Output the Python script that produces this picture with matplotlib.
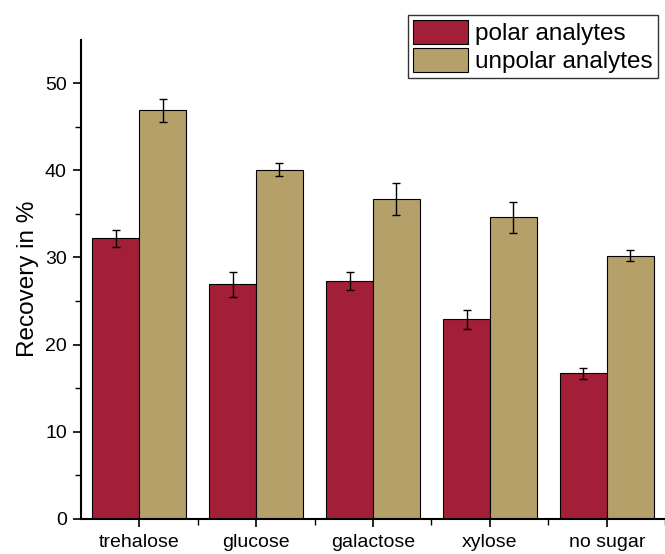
import numpy as np
import matplotlib
matplotlib.use("Agg")
import matplotlib.pyplot as plt

plt.rcParams['font.family'] = ['Liberation Sans', 'DejaVu Sans']

# Data
categories = ["trehalose", "glucose", "galactose", "xylose", "no sugar"]
polar      = [32.2, 26.9, 27.3, 22.9, 16.7]
polar_err  = [0.95, 1.4, 1.0, 1.1, 0.6]
unpolar    = [46.9, 40.1, 36.7, 34.6, 30.2]
unpolar_err = [1.35, 0.7, 1.85, 1.8, 0.65]

red = '#A31F37'
tan = '#B5A06A'

fig = plt.figure(figsize=(6.65, 5.54), dpi=100)
ax = fig.add_axes([0.1214, 0.0637, 0.879, 0.8645])

x = np.arange(1, len(categories) + 1)
w = 0.4
err_kw = dict(ecolor='black', elinewidth=1.0, capsize=3, capthick=1.0)
ax.bar(x - w/2, polar, w, yerr=polar_err, color=red, edgecolor='black',
       linewidth=0.8, label='polar analytes', error_kw=err_kw)
ax.bar(x + w/2, unpolar, w, yerr=unpolar_err, color=tan, edgecolor='black',
       linewidth=0.8, label='unpolar analytes', error_kw=err_kw)

ax.set_xlim(0.5, 5.4)
ax.set_ylim(0, 55)
ax.set_xticks(x)
ax.set_xticklabels(categories)
ax.set_xticks(x + 0.5, minor=True)
ax.set_yticks([0, 10, 20, 30, 40, 50])
ax.set_yticks([5, 15, 25, 35, 45], minor=True)

for side in ('top', 'right'):
  ax.spines[side].set_visible(False)
for side in ('left', 'bottom'):
  ax.spines[side].set_linewidth(1.5)

ax.tick_params(which='major', direction='out', length=6, width=1.2, labelsize=14, pad=4)
ax.tick_params(which='minor', direction='out', length=4, width=1.0)
ax.tick_params(axis='x', which='major', pad=5)
ax.set_ylabel("Recovery in %", fontsize=17.5, labelpad=4)

leg = ax.legend(loc='upper right', bbox_to_anchor=(0.9875, 1.0 + 25/479),
                fontsize=17.5, frameon=True, fancybox=False, framealpha=1,
                edgecolor='#333333', handlelength=2.26, handleheight=1.15,
                handletextpad=0.3, labelspacing=0.12, borderpad=0.2,
                borderaxespad=0)
leg.get_frame().set_linewidth(1.0)

fig.savefig("out.png", dpi=100)
